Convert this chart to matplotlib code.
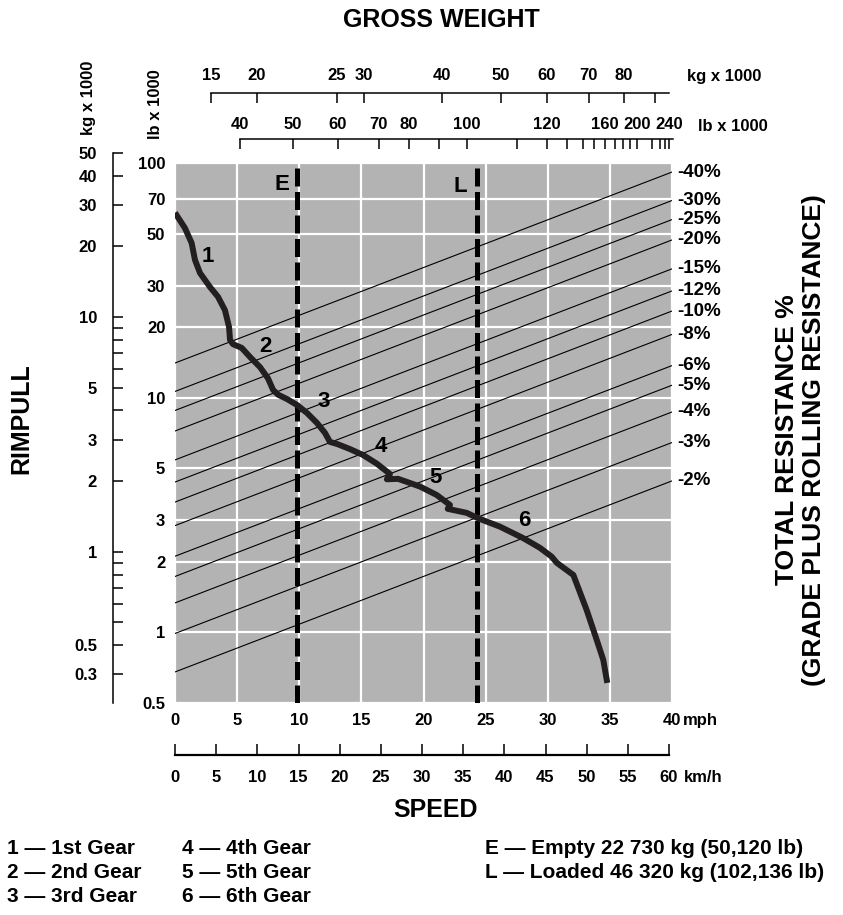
import matplotlib
matplotlib.use("Agg")
import matplotlib.pyplot as plt
import numpy as np

plt.rcParams['font.family'] = ['Liberation Sans', 'DejaVu Sans']
plt.rcParams['font.weight'] = 'bold'

W, H = 843, 915

# speed axis
mph_ticks = [0, 5, 10, 15, 20, 25, 30, 35, 40]
kmh_ticks = [0, 5, 10, 15, 20, 25, 30, 35, 40, 45, 50, 55, 60]

# rimpull axes
lb_ticks = [0.5, 1, 2, 3, 5, 10, 20, 30, 50, 70, 100]
lb_labels = ["0.5", "1", "2", "3", "5", "10", "20", "30", "50", "70", "100"]
kg_major = [50, 40, 30, 20, 10, 5, 3, 2, 1, 0.4, 0.3]
kg_major_labels = ["50", "40", "30", "20", "10", "5", "3", "2", "1", "0.5", "0.3"]
kg_minor = [9, 8, 7, 6, 4, 0.9, 0.8, 0.7, 0.6, 0.5]

# gross weight scales (positions along the speed axis, mph units)
gw_kg_pos = [2.9, 6.6, 13.03, 15.21, 21.48, 26.23, 29.93, 33.31, 36.12, 38.62]
gw_kg_labels = ["15", "20", "25", "30", "40", "50", "60", "70", "80", ""]
gw_kg_span = (2.9, 39.74)
gw_lb_pos = [5.23, 9.49, 13.11, 16.41, 18.83, 21.24, 23.49, 27.51, 29.93, 31.54,
             32.82, 33.71, 34.59, 35.40, 36.04, 36.60, 37.17, 38.38, 39.02, 39.42, 39.74]
gw_lb_labels = ["40", "50", "60", "70", "80", "", "100", "", "120", "",
                "", "", "160", "", "", "", "200", "", "", "", "240"]
gw_lb_span = (5.23, 40.06)

# total resistance lines: rimpull (lb x 1000) at 0 mph and at 40 mph
resistance = ["-40%", "-30%", "-25%", "-20%", "-15%", "-12%", "-10%",
              "-8%", "-6%", "-5%", "-4%", "-3%", "-2%"]
res_left = [14.05, 10.63, 8.82, 7.21, 5.43, 4.37, 3.59, 2.85, 2.11, 1.73, 1.335, 0.989, 0.678]
res_right = [91.5, 69.2, 57.4, 47.0, 35.4, 28.5, 23.4, 18.6, 13.7, 11.3, 8.69, 6.44, 4.42]

# rimpull curve (mph, lb x 1000)
speed = [0, 0.80, 1.34, 1.61, 2.01, 2.82, 3.46, 4.02, 4.35, 4.43, 4.67, 5.37, 6.04,
         6.84, 7.48, 7.89, 8.29, 9.01, 9.82, 10.62, 11.43, 12.07, 12.47, 13.04, 14.08,
         15.13, 16.23, 17.30, 17.05, 17.95, 18.91, 19.72, 21.06, 22.13, 21.95, 23.48,
         24.41, 26.16, 28.03, 29.38, 30.32, 30.72, 32.06, 33.13, 33.94, 34.47, 34.79]
rimpull = [61.4, 52.8, 45.6, 38.6, 34.0, 29.6, 26.9, 23.6, 20.0, 17.6, 16.9, 16.3, 14.9,
           13.5, 12.1, 10.8, 10.3, 9.87, 9.31, 8.61, 7.80, 7.08, 6.48, 6.35, 6.04,
           5.70, 5.24, 4.73, 4.49, 4.51, 4.33, 4.18, 3.85, 3.49, 3.36, 3.23,
           3.06, 2.82, 2.52, 2.29, 2.10, 1.98, 1.756, 1.246, 0.929, 0.763, 0.609]

gears = ["1", "2", "3", "4", "5", "6"]
gear_x = [2.68, 7.24, 11.99, 16.55, 21.0, 28.09]
gear_y = [39.9, 16.5, 9.62, 6.22, 4.58, 3.0]

E_mph, L_mph = 9.78, 24.3

fig = plt.figure(figsize=(W / 100, H / 100), dpi=100)


def box(x0, y0, x1, y1):
    return [x0 / W, 1 - y1 / H, (x1 - x0) / W, (y1 - y0) / H]


# main chart
ax = fig.add_axes(box(175, 163, 672, 703))
ax.set_facecolor('#b3b3b3')
ax.set_xlim(0, 40)
ax.set_yscale('log')
ax.set_ylim(0.5, 100)
ax.set_xticks(mph_ticks)
ax.set_xticklabels([str(t) for t in mph_ticks])
ax.set_yticks(lb_ticks)
ax.set_yticklabels(lb_labels)
ax.yaxis.set_minor_locator(matplotlib.ticker.NullLocator())
ax.tick_params(length=0, pad=7, labelsize=12)
ax.grid(True, color='white', lw=1.6)
ax.set_axisbelow(True)
for s in ax.spines.values():
    s.set_visible(False)

for lo, hi in zip(res_left, res_right):
    ax.plot([0, 40], [lo, hi], color='black', lw=0.8)
for lab, hi in zip(resistance, res_right):
    ax.annotate(lab, xy=(40, hi), xytext=(4, 0), textcoords='offset points',
                ha='left', va='center', fontsize=13.5, annotation_clip=False)

for xv in (E_mph, L_mph):
    ax.axvline(xv, color='black', lw=3.6, dashes=(3.6, 1.1))
ax.text(E_mph - 1.2, 80.8, "E", ha='center', va='center', fontsize=16)
ax.text(L_mph - 1.3, 79.3, "L", ha='center', va='center', fontsize=16)

ax.plot(speed, rimpull, color='#231f20', lw=4.3, solid_joinstyle='round',
        solid_capstyle='butt')
for g, gx, gy in zip(gears, gear_x, gear_y):
    ax.text(gx, gy, g, ha='center', va='center', fontsize=16)

# kg rimpull axis
decades = np.log10(100 / 0.5)
kg_dec = np.log10(50 * 2.2046 / 0.5)
kg_top = 703 - 540 * kg_dec / decades
axk = fig.add_axes(box(113, kg_top, 113.1, 703))
axk.set_facecolor('none')
axk.set_yscale('log')
axk.set_ylim(0.5 / 2.2046, 50)
axk.set_xticks([])
for k in ('top', 'right', 'bottom'):
    axk.spines[k].set_visible(False)
axk.spines['left'].set_linewidth(1.1)
axk.yaxis.set_major_locator(matplotlib.ticker.FixedLocator(kg_major))
axk.yaxis.set_major_formatter(matplotlib.ticker.FixedFormatter(kg_major_labels))
axk.yaxis.set_minor_locator(matplotlib.ticker.FixedLocator(kg_minor))
axk.yaxis.set_minor_formatter(matplotlib.ticker.NullFormatter())
axk.tick_params(axis='y', which='both', direction='in', length=7.2, width=1.1,
                pad=11.5, labelsize=12)

fig.text(88 / W, 1 - 98 / H, "kg x 1000", rotation=90, ha='center', va='center', fontsize=12)
fig.text(155 / W, 1 - 104 / H, "lb x 1000", rotation=90, ha='center', va='center', fontsize=12)


def scale_axis(y, pos, labels, span, xlim, ticks_top=True):
    a = fig.add_axes(box(175, y, 672, y + 0.1))
    a.set_facecolor('none')
    a.set_xlim(*xlim)
    a.set_yticks([])
    for k in a.spines:
        a.spines[k].set_visible(False)
    side = 'top' if ticks_top else 'bottom'
    a.spines[side].set_visible(True)
    a.spines[side].set_linewidth(1.1)
    a.spines[side].set_bounds(*span)
    a.set_xticks(pos)
    a.set_xticklabels(labels)
    a.tick_params(axis='x', direction='in', length=7.5, width=1.1, labelsize=12,
                  top=ticks_top, bottom=not ticks_top,
                  labeltop=ticks_top, labelbottom=not ticks_top)
    return a


a1 = scale_axis(93, gw_kg_pos, gw_kg_labels, gw_kg_span, (0, 40))
a1.tick_params(pad=7)
a2 = scale_axis(139, gw_lb_pos, gw_lb_labels, gw_lb_span, (0, 40))
a2.tick_params(pad=5)
fig.text(687 / W, 1 - 77 / H, "kg x 1000", ha='left', va='center', fontsize=12)
fig.text(698 / W, 1 - 126 / H, "lb x 1000", ha='left', va='center', fontsize=12)

# km/h axis
axkm = fig.add_axes(box(175, 754.9, 669, 755))
axkm.set_facecolor('none')
axkm.set_xlim(0, 60)
axkm.set_yticks([])
for k in ('top', 'right', 'left'):
    axkm.spines[k].set_visible(False)
axkm.spines['bottom'].set_linewidth(1.6)
axkm.set_xticks(kmh_ticks)
axkm.set_xticklabels([str(t) for t in kmh_ticks])
axkm.tick_params(axis='x', direction='in', length=8, width=1.1, pad=11, labelsize=12)

fig.text(683 / W, 1 - 720 / H, "mph", ha='left', va='center', fontsize=12)
fig.text(684 / W, 1 - 778 / H, "km/h", ha='left', va='center', fontsize=12)

# titles
fig.text(441 / W, 1 - 20 / H, "GROSS WEIGHT", ha='center', va='center', fontsize=18)
fig.text(436 / W, 1 - 810 / H, "SPEED", ha='center', va='center', fontsize=18)
fig.text(21 / W, 1 - 419 / H, "RIMPULL", rotation=90, ha='center', va='center', fontsize=18)
fig.text(787 / W, 1 - 440 / H, "TOTAL RESISTANCE %", rotation=90, ha='center', va='center',
         fontsize=19)
fig.text(814 / W, 1 - 440 / H, "(GRADE PLUS ROLLING RESISTANCE)", rotation=90, ha='center',
         va='center', fontsize=19)

# key
col1 = ["1 — 1st Gear", "2 — 2nd Gear", "3 — 3rd Gear"]
col2 = ["4 — 4th Gear", "5 — 5th Gear", "6 — 6th Gear"]
col3 = ["E — Empty 22 730 kg (50,120 lb)", "L — Loaded 46 320 kg (102,136 lb)"]
for x0, col in ((7, col1), (182, col2), (485, col3)):
    for i, t in enumerate(col):
        fig.text(x0 / W, 1 - (848 + 24.5 * i) / H, t, ha='left', va='center', fontsize=15)

fig.savefig("out.png", dpi=100)
